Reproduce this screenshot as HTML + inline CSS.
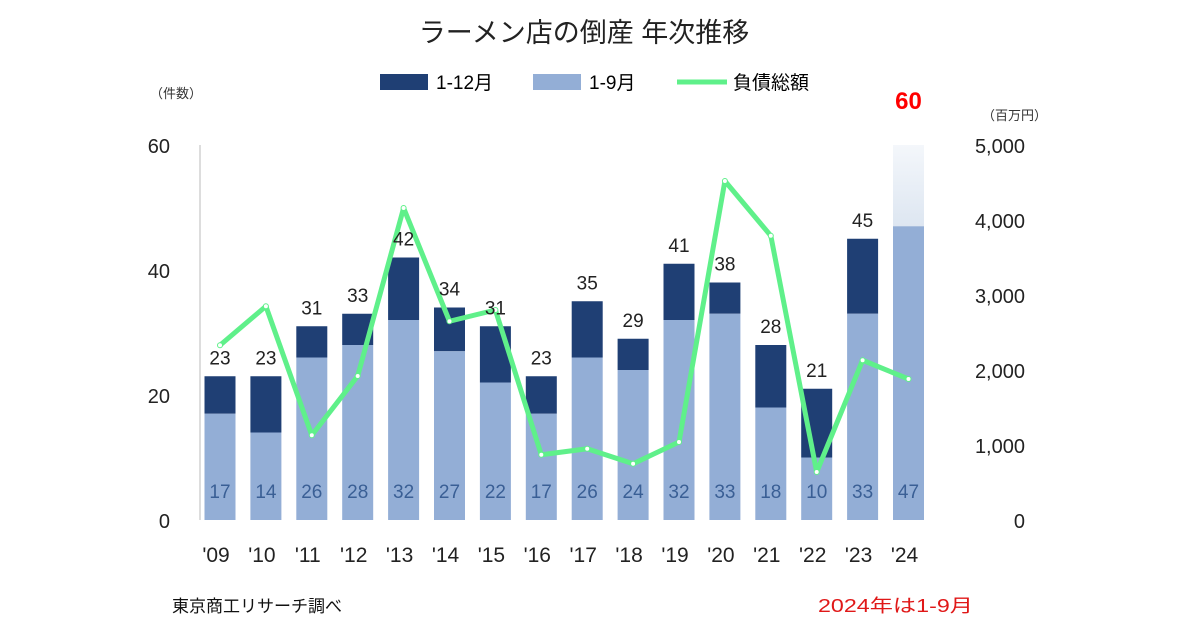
<!DOCTYPE html>
<html><head><meta charset="utf-8"><style>
body{margin:0;background:#fff;width:1200px;height:630px;overflow:hidden;font-family:"Liberation Sans","Noto Sans CJK JP",sans-serif;}
</style></head><body>
<svg id="c" width="1200" height="630" xmlns="http://www.w3.org/2000/svg" font-family="Liberation Sans, Noto Sans CJK JP, sans-serif">
<defs><linearGradient id="fade" x1="0" y1="0" x2="0" y2="1"><stop offset="0" stop-color="#f4f7fb"/><stop offset="1" stop-color="#dde6f1"/></linearGradient></defs>
<text x="584" y="42" text-anchor="middle" font-size="27" fill="#222">ラーメン店の倒産 年次推移</text>
<g>
<rect x="380" y="74" width="48" height="16" fill="#1f3f74"/>
<text x="436" y="89" font-size="19">1-12月</text>
<rect x="533" y="74" width="48" height="16" fill="#93aed6"/>
<text x="589" y="89" font-size="19">1-9月</text>
<line x1="677" y1="82" x2="727" y2="82" stroke="#5ff08a" stroke-width="5"/>
<text x="733" y="89" font-size="19">負債総額</text>
</g>
<text x="150" y="98" font-size="13" fill="#333">（件数）</text>
<text x="982" y="120" font-size="13" fill="#333">（百万円）</text>
<line x1="200" y1="145" x2="200" y2="520" stroke="#bbb" stroke-width="1"/>
<g id="plot"></g>
<text x="172" y="612" font-size="17" fill="#111">東京商工リサーチ調べ</text>
<text x="818" y="612" font-size="18" fill="#e01818" textLength="155" lengthAdjust="spacingAndGlyphs">2024年は1-9月</text>
</svg>
<script>
const years=["'09","'10","'11","'12","'13","'14","'15","'16","'17","'18","'19","'20","'21","'22","'23","'24"];
const full=[23,23,31,33,42,34,31,23,35,29,41,38,28,21,45,60];
const partial=[17,14,26,28,32,27,22,17,26,24,32,33,18,10,33,47];
const debt=[2330,2850,1130,1920,4160,2650,2800,870,950,750,1040,4520,3790,640,2130,1880];
const leftTicks=[0,20,40,60];
const rightTicks=[0,1000,2000,3000,4000,5000];
const NS="http://www.w3.org/2000/svg";
const g=document.getElementById('plot');
const y0=520,yTop=145;
const yL=v=>y0-(v/60)*(y0-yTop);
const yR=v=>y0-(v/5000)*(y0-yTop);
const xC=i=>220+i*45.9;
const bw=31;
function mk(t,a){const e=document.createElementNS(NS,t);for(const k in a)e.setAttribute(k,a[k]);g.appendChild(e);return e;}
leftTicks.forEach(v=>{const t=mk('text',{x:170,y:yL(v)+8,'text-anchor':'end','font-size':20,fill:'#222'});t.textContent=v;

});
rightTicks.forEach(v=>{const t=mk('text',{x:1025,y:yR(v)+8,'text-anchor':'end','font-size':20,fill:'#222'});t.textContent=v.toLocaleString('en-US');

});
years.forEach((yr,i)=>{
 const x=xC(i)-bw/2;
 const last=i===years.length-1;
 const top=mk('rect',{x:x,y:yL(full[i]),width:bw,height:yL(partial[i])-yL(full[i]),fill:last?'url(#fade)':'#1f3f74'});
 
 
 const b=mk('rect',{x:x,y:yL(partial[i]),width:bw,height:y0-yL(partial[i]),fill:'#93aed6'});
 
 
 const xl=mk('text',{x:xC(i)-4,y:562,'text-anchor':'middle','font-size':21,fill:'#222'});xl.textContent=yr;
 
 
});
const pts=debt.map((v,i)=>xC(i)+','+yR(v)).join(' ');
const ln=mk('polyline',{points:pts,fill:'none',stroke:'#5ff08a','stroke-width':5,'stroke-linejoin':'round'});


debt.forEach((v,i)=>{const c=mk('circle',{cx:xC(i),cy:yR(v),r:2.5,fill:'#fff',stroke:'#5ff08a','stroke-width':1});

});
years.forEach((yr,i)=>{
 const last=i===years.length-1;
 const pl=mk('text',{x:xC(i),y:498,'text-anchor':'middle','font-size':19,fill:'#3a5f95'});pl.textContent=partial[i];
 
 
 const fl=mk('text',{x:xC(i),y:last?yL(full[i])-36:yL(full[i])-12,'text-anchor':'middle','font-size':last?24:19,'font-weight':last?'bold':'normal',fill:last?'#f00':'#222'});
 fl.textContent=full[i];
 
 
});
</script>
</body></html>
